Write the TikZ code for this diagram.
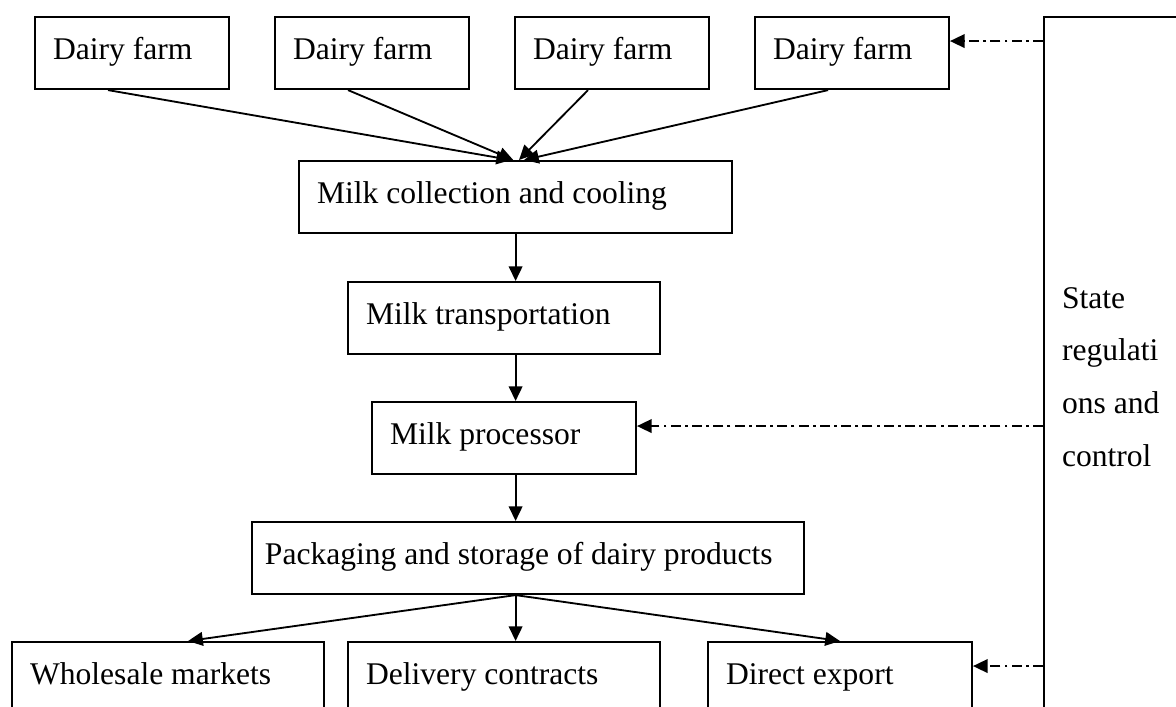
\documentclass[tikz,border=0pt]{standalone}
\usepackage{fontspec}
\setmainfont{Liberation Serif}
\usetikzlibrary{arrows.meta,calc}
\tikzset{
  box/.style={draw, line width=0.8pt, anchor=north west, align=flush left,
    inner xsep=6.84pt, inner ysep=0pt, text height=15.96pt, text depth=11.4pt,
    text width=#1},
  flow/.style={-{Triangle[length=5.6pt,width=5.2pt]}, line width=0.7pt},
  ctrl/.style={flow, dash pattern=on 3.8pt off 1.6pt on 1.1pt off 1.6pt},
}

\begin{document}
\begin{tikzpicture}[x=0.38pt,y=-0.38pt,font=\fontsize{12pt}{20.1pt}\selectfont]
  \useasboundingbox (0,0) rectangle (1176,707);
  \clip (0,0) rectangle (1176,707);

  % farms
  \foreach \x [count=\i] in {34,274,514,754}
    \node[box=60pt] (farm\i) at (\x,16) {Dairy farm};

  % main chain
  \node[box=150.9pt] (collect) at (298,160) {Milk collection and cooling};
  \node[box=104.9pt] (transp) at (347,281) {Milk transportation};
  \node[box=86.6pt] (proc) at (371,401) {Milk processor};
  \node[box=200pt, inner xsep=4.9pt] (pack) at (251,521) {Packaging and storage of dairy products};

  % outlets
  \node[box=104.9pt] (whole) at (11,641) {Wholesale markets};
  \node[box=104.9pt] (deliv) at (347,641) {Delivery contracts};
  \node[box=86.6pt] (export) at (707,641) {Direct export};

  % state
  \node[box=100pt, text height=110.6pt, text depth=300pt] (state) at (1043,16)
    {State\\regulati\\ons and\\control};

  \foreach \i/\d in {1/-1.7pt,2/-0.9pt,3/1.3pt,4/3.2pt}
    \draw[flow] ([xshift=-9.1pt]farm\i.south) -- ([xshift=\d]collect.north);

  \draw[flow] (collect.south) -- (collect.south |- transp.north);
  \draw[flow] (collect.south |- transp.south) -- (collect.south |- proc.north);
  \draw[flow] (collect.south |- proc.south) -- (collect.south |- pack.north);

  \coordinate (fork) at (collect.south |- pack.south);
  \draw[flow] (fork) -- ([xshift=7.6pt]whole.north);
  \draw[flow] (fork) -- (fork |- deliv.north);
  \draw[flow] (fork) -- (export.north);

  \foreach \n in {farm4,proc,export}{
    \coordinate (\n-in) at ([yshift=4.56pt]\n.east);
    \draw[ctrl] (state.west |- \n-in) -- (\n-in);
  }
\end{tikzpicture}
\end{document}
